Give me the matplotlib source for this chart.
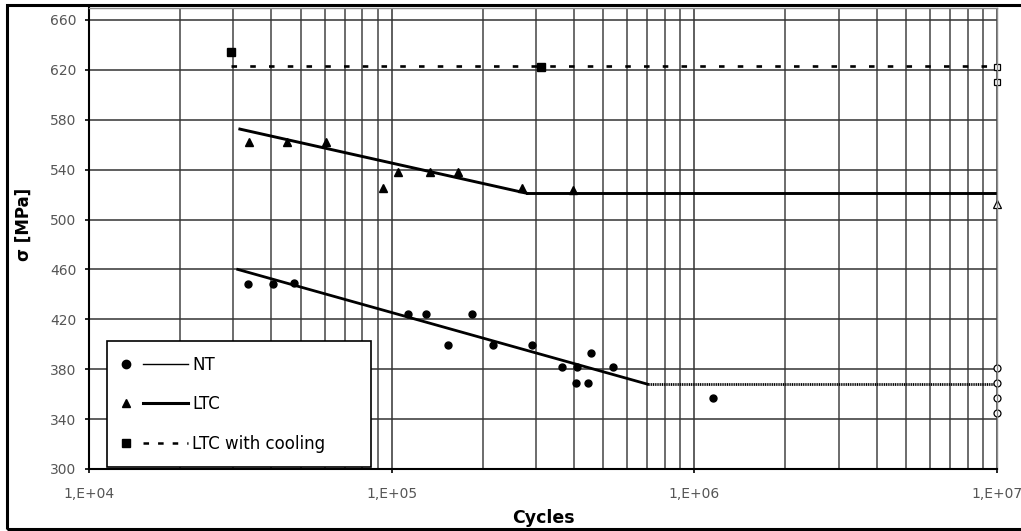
import numpy as np
import matplotlib
matplotlib.use("Agg")
import matplotlib.pyplot as plt
from matplotlib.lines import Line2D
from matplotlib.patches import Rectangle
from matplotlib.legend_handler import HandlerBase
from matplotlib.ticker import LogLocator, FixedLocator, FixedFormatter, NullFormatter

# datos
nt_x = [3.35e4, 4.05e4, 4.75e4, 1.13e5, 1.30e5, 1.84e5, 1.535e5, 2.16e5,
        2.91e5, 3.65e5, 4.09e5, 5.38e5, 4.55e5, 4.06e5, 4.45e5, 1.15e6]
nt_y = [448.5, 448.5, 449, 424, 424, 424, 399, 399,
        399, 382, 382, 382, 393, 369, 369, 357]
nt_runout_y = [381, 369, 357, 345]

ltc_x = [3.38e4, 4.51e4, 6.07e4, 9.36e4, 1.05e5, 1.34e5, 1.66e5, 2.69e5, 3.97e5]
ltc_y = [562, 562, 562, 525, 538, 538, 538, 525, 524]
ltc_runout_y = [512.5]

cool_x = [2.94e4, 3.11e5]
cool_y = [634, 622.5]
cool_runout_y = [622.5, 610.5]

runout_x = 1e7

# curvas de Wöhler (tramo inclinado + limite de fatiga)
nt_fit_x = [3.1e4, 7.0e5]
nt_fit_y = [460, 368]
nt_flat_x = [7.0e5, 1e7]
nt_flat_y = [368, 368]

ltc_fit_x = [3.15e4, 2.8e5]
ltc_fit_y = [572.5, 521]
ltc_flat_x = [2.8e5, 1e7]
ltc_flat_y = [521, 521]

cool_line_x = [2.95e4, 1e7]
cool_line_y = [623, 623]

x_ticks = [1e4, 1e5, 1e6, 1e7]
x_tick_labels = ['1,E+04', '1,E+05', '1,E+06', '1,E+07']
y_ticks = [300, 340, 380, 420, 460, 500, 540, 580, 620, 660]

series_names = ['NT', 'LTC', 'LTC with cooling']

plt.rcParams['font.family'] = ['DejaVu Sans']
plt.rcParams['lines.scale_dashes'] = False


class MarcadorYLinea(HandlerBase):
    # marcador a la izquierda y trozo de linea a la derecha, como en Excel
    def create_artists(self, legend, orig_handle, xdescent, ydescent,
                       width, height, fontsize, trans):
        mk, ln = orig_handle
        y = height / 2 - ydescent
        x0 = -xdescent
        m = Line2D([x0 + 0.07 * width], [y], linestyle='none',
                   marker=mk.get_marker(), markersize=mk.get_markersize(),
                   color='black')
        l = Line2D([x0 + 0.33 * width, x0 + width], [y, y], color='black',
                   linewidth=ln.get_linewidth(), linestyle=ln.get_linestyle())
        if ln.get_linestyle() == '--':
            l.set_dashes((4.0, 6.5))
        m.set_transform(trans)
        l.set_transform(trans)
        return [m, l]


fig = plt.figure(figsize=(10.21, 5.31), dpi=100)
ax = fig.add_axes([0.0872, 0.1168, 0.8893, 0.8682])
ax.set_xscale('log')
ax.set_xlim(1e4, 1e7)
ax.set_ylim(300, 669.6)

# rejilla
ax.set_axisbelow(True)
ax.xaxis.set_major_locator(FixedLocator(x_ticks))
ax.xaxis.set_major_formatter(FixedFormatter(x_tick_labels))
ax.xaxis.set_minor_locator(LogLocator(base=10, subs=range(2, 10)))
ax.xaxis.set_minor_formatter(NullFormatter())
ax.set_yticks(y_ticks)
ax.grid(which='major', color='#333333', linewidth=1.1)
ax.grid(which='minor', axis='x', color='#444444', linewidth=1.1)

# curvas
ax.plot(nt_fit_x, nt_fit_y, color='black', linewidth=2.0)
ax.plot(nt_flat_x, nt_flat_y, color='black', linewidth=2.0, linestyle=(0, (0.8, 0.5)))
ax.plot(ltc_fit_x, ltc_fit_y, color='black', linewidth=2.1)
ax.plot(ltc_flat_x, ltc_flat_y, color='black', linewidth=2.1)
ax.plot(cool_line_x, cool_line_y, color='black', linewidth=1.9, dashes=(4.0, 9.5))

# puntos
ax.plot(nt_x, nt_y, 'o', color='black', markersize=5)
ax.plot(ltc_x, ltc_y, '^', color='black', markersize=6)
ax.plot(cool_x, cool_y, 's', color='black', markersize=6)

# puntos sin rotura en 1E+07
ax.plot([runout_x] * len(nt_runout_y), nt_runout_y, 'o', mfc='white', mec='black',
        markersize=5, mew=0.9, clip_on=False)
ax.plot([runout_x] * len(ltc_runout_y), ltc_runout_y, '^', mfc='white', mec='black',
        markersize=6, mew=0.9, clip_on=False)
ax.plot([runout_x] * len(cool_runout_y), cool_runout_y, 's', mfc='white', mec='black',
        markersize=5, mew=0.9, clip_on=False)

# ejes
for lado in ['top', 'right']:
    ax.spines[lado].set_color('#8c8c8c')
    ax.spines[lado].set_linewidth(1.0)
for lado in ['left', 'bottom']:
    ax.spines[lado].set_color('black')
    ax.spines[lado].set_linewidth(1.5)

ax.tick_params(axis='x', which='major', direction='out', length=3, width=1.2,
               color='black', pad=10, labelsize=10, labelcolor='#555555')
ax.tick_params(axis='x', which='minor', length=0)
ax.tick_params(axis='y', which='major', direction='out', length=3, width=1.2,
               color='black', pad=6, labelsize=10, labelcolor='#555555')

ax.set_xlabel('Cycles', fontsize=12.5, fontweight='bold', labelpad=6)
ax.set_ylabel('σ [MPa]', fontsize=12, fontweight='bold')
ax.yaxis.set_label_coords(-0.062, 0.53)

# leyenda
handles = [
    (Line2D([], [], marker='o', markersize=6), Line2D([], [], linewidth=1.0)),
    (Line2D([], [], marker='^', markersize=6), Line2D([], [], linewidth=2.2)),
    (Line2D([], [], marker='s', markersize=6), Line2D([], [], linewidth=1.8, linestyle='--')),
]
leg = ax.legend(handles, series_names, handler_map={tuple: MarcadorYLinea()},
                loc='lower left', bbox_to_anchor=(0.0198, 0.004, 0.291, 0.267),
                mode='expand', fontsize=12, handlelength=4.0, handletextpad=0.25,
                labelspacing=1.3, borderpad=0.85, borderaxespad=0,
                fancybox=False, framealpha=1, edgecolor='black')
leg.get_frame().set_linewidth(1.2)

# marco exterior de la figura
fig.patches.append(Rectangle((7 / 1021, 0.0038), 1.1, 0.9868, transform=fig.transFigure,
                             fill=False, edgecolor='black', linewidth=2.2))

plt.savefig('out.png', dpi=100)
